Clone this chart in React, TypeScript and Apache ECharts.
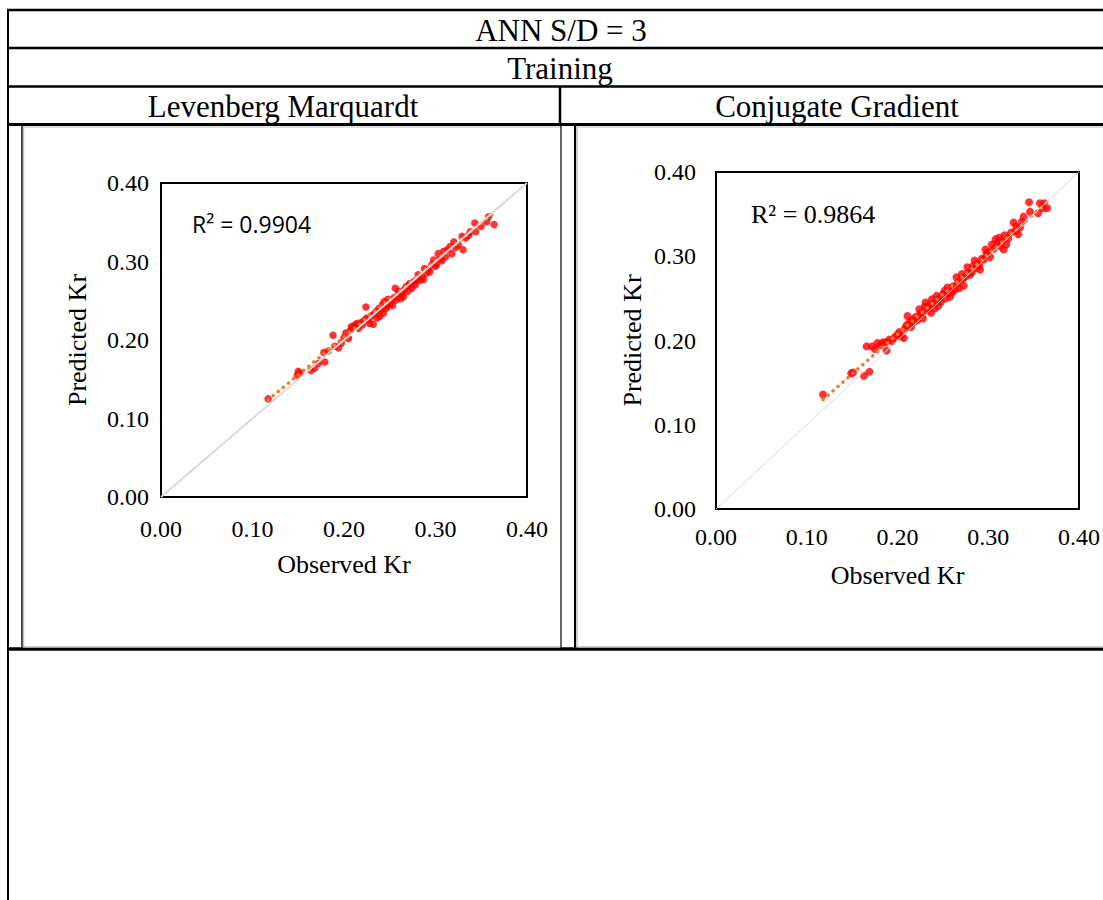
import React, { useEffect, useRef } from "react";
import * as echarts from "echarts";

// ---- Levenberg Marquardt (training) ----
const lmObserved = [
  0.117, 0.149, 0.150, 0.152, 0.164, 0.168, 0.172, 0.178, 0.179, 0.183,
  0.188, 0.190, 0.194, 0.197, 0.200, 0.202, 0.205, 0.207, 0.208, 0.210,
  0.212, 0.214, 0.216, 0.218, 0.220, 0.222, 0.224, 0.225, 0.227, 0.228,
  0.230, 0.232, 0.233, 0.235, 0.236, 0.238, 0.239, 0.240, 0.242, 0.243,
  0.244, 0.246, 0.247, 0.248, 0.250, 0.252, 0.253, 0.255, 0.256, 0.257,
  0.259, 0.260, 0.262, 0.263, 0.265, 0.266, 0.268, 0.270, 0.271, 0.272,
  0.274, 0.276, 0.278, 0.279, 0.281, 0.283, 0.285, 0.287, 0.288, 0.290,
  0.292, 0.294, 0.296, 0.298, 0.300, 0.301, 0.303, 0.305, 0.307, 0.309,
  0.311, 0.313, 0.316, 0.318, 0.320, 0.322, 0.325, 0.329, 0.330, 0.333,
  0.336, 0.338, 0.343, 0.344, 0.350, 0.356, 0.358, 0.364,
];
const lmPredicted = [
  0.125, 0.155, 0.160, 0.158, 0.161, 0.164, 0.170, 0.184, 0.172, 0.186,
  0.206, 0.192, 0.190, 0.196, 0.203, 0.209, 0.202, 0.212, 0.217, 0.215,
  0.219, 0.221, 0.215, 0.222, 0.219, 0.225, 0.242, 0.228, 0.226, 0.221,
  0.231, 0.220, 0.233, 0.236, 0.228, 0.240, 0.230, 0.238, 0.245, 0.234,
  0.249, 0.240, 0.243, 0.252, 0.246, 0.251, 0.244, 0.254, 0.266, 0.251,
  0.257, 0.262, 0.253, 0.259, 0.255, 0.264, 0.268, 0.262, 0.270, 0.272,
  0.266, 0.274, 0.270, 0.276, 0.283, 0.276, 0.280, 0.277, 0.291, 0.285,
  0.289, 0.287, 0.296, 0.302, 0.294, 0.296, 0.310, 0.303, 0.301, 0.313,
  0.306, 0.315, 0.319, 0.310, 0.325, 0.318, 0.321, 0.332, 0.315, 0.330,
  0.333, 0.338, 0.349, 0.338, 0.345, 0.351, 0.357, 0.347,
];
const lmTrend = { slope: 0.967, intercept: 0.0105 };
const lmR2 = "R² = 0.9904";

// ---- Conjugate Gradient (training) ----
const cgObserved = [
  0.118, 0.149, 0.151, 0.163, 0.166, 0.169, 0.172, 0.175, 0.178, 0.181,
  0.184, 0.187, 0.188, 0.191, 0.194, 0.197, 0.200, 0.202, 0.204, 0.207,
  0.208, 0.210, 0.211, 0.213, 0.215, 0.216, 0.218, 0.220, 0.222, 0.224,
  0.225, 0.227, 0.228, 0.230, 0.231, 0.233, 0.234, 0.236, 0.237, 0.238,
  0.240, 0.241, 0.243, 0.244, 0.245, 0.247, 0.248, 0.250, 0.252, 0.253,
  0.255, 0.256, 0.258, 0.260, 0.261, 0.263, 0.265, 0.266, 0.268, 0.269,
  0.271, 0.272, 0.273, 0.275, 0.277, 0.278, 0.280, 0.282, 0.283, 0.285,
  0.287, 0.288, 0.290, 0.291, 0.293, 0.295, 0.297, 0.298, 0.300, 0.302,
  0.304, 0.306, 0.308, 0.310, 0.312, 0.313, 0.315, 0.317, 0.318, 0.320,
  0.322, 0.325, 0.328, 0.330, 0.331, 0.333, 0.335, 0.337, 0.339, 0.345,
  0.346, 0.355, 0.357, 0.360, 0.362, 0.365,
];
const cgPredicted = [
  0.136, 0.161, 0.162, 0.158, 0.193, 0.163, 0.193, 0.190, 0.197, 0.195,
  0.198, 0.198, 0.188, 0.201, 0.199, 0.204, 0.207, 0.210, 0.205, 0.203,
  0.214, 0.218, 0.229, 0.221, 0.216, 0.225, 0.222, 0.228, 0.224, 0.237,
  0.232, 0.231, 0.226, 0.240, 0.245, 0.236, 0.239, 0.242, 0.233, 0.249,
  0.244, 0.238, 0.253, 0.247, 0.241, 0.251, 0.246, 0.255, 0.259, 0.250,
  0.263, 0.256, 0.252, 0.257, 0.264, 0.260, 0.275, 0.268, 0.262, 0.272,
  0.279, 0.273, 0.265, 0.276, 0.287, 0.281, 0.278, 0.281, 0.288, 0.295,
  0.286, 0.291, 0.289, 0.284, 0.297, 0.296, 0.308, 0.302, 0.305, 0.299,
  0.314, 0.309, 0.320, 0.316, 0.322, 0.312, 0.318, 0.308, 0.325, 0.314,
  0.321, 0.328, 0.340, 0.330, 0.335, 0.326, 0.334, 0.341, 0.347, 0.364,
  0.353, 0.351, 0.363, 0.357, 0.363, 0.357,
];
const cgTrend = { slope: 0.947, intercept: 0.0182 };
const cgR2 = "R² = 0.9864";

// ---- shared axis / table text ----
const axisTicks = [0, 0.1, 0.2, 0.3, 0.4];
const xTitle = "Observed Kr";
const yTitle = "Predicted Kr";
const tableTitle = "ANN S/D = 3";
const phaseTitle = "Training";
const methodTitles = ["Levenberg Marquardt", "Conjugate Gradient"];

const SERIF = "'Liberation Serif', 'Times New Roman', serif";

function pairs(xs: number[], ys: number[]) {
  return xs.map((x, i) => [x, ys[i]]);
}

function trendLine(xs: number[], t: { slope: number; intercept: number }) {
  const lo = Math.min(...xs);
  const hi = Math.max(...xs);
  return [
    [lo, t.slope * lo + t.intercept],
    [hi, t.slope * hi + t.intercept],
  ];
}

function axisPair(idx: number, xNameGap: number, yNameGap: number, xMargin: number, yMargin: number) {
  const lo = axisTicks[0];
  const hi = axisTicks[axisTicks.length - 1];
  const common = {
    gridIndex: idx,
    type: "value" as const,
    min: lo,
    max: hi,
    interval: axisTicks[1] - axisTicks[0],
    axisLine: { show: false },
    axisTick: { show: false },
    splitLine: { show: false },
    nameLocation: "middle" as const,
    nameTextStyle: { fontFamily: SERIF, fontSize: 26, color: "#000" },
  };
  const tickLabel = (margin: number) => ({
    formatter: (v: number) => v.toFixed(2),
    fontFamily: SERIF,
    fontSize: 24,
    color: "#000",
    margin,
  });
  return {
    x: { ...common, name: xTitle, nameGap: xNameGap, axisLabel: tickLabel(xMargin) },
    y: { ...common, name: yTitle, nameGap: yNameGap, axisLabel: tickLabel(yMargin) },
  };
}

function seriesFor(
  idx: number,
  xs: number[],
  ys: number[],
  t: { slope: number; intercept: number },
  diagWidth: number,
  dot: number
) {
  return [
    {
      type: "scatter",
      xAxisIndex: idx,
      yAxisIndex: idx,
      data: pairs(xs, ys),
      symbol: "circle",
      symbolSize: dot,
      itemStyle: { color: "#FF0000" },
      z: 2,
    },
    {
      type: "line",
      xAxisIndex: idx,
      yAxisIndex: idx,
      data: trendLine(xs, t),
      showSymbol: false,
      lineStyle: { color: "#ED7D31", width: 3.5, type: [0.1, 6.5], cap: "round" },
      z: 3,
    },
    {
      type: "line",
      xAxisIndex: idx,
      yAxisIndex: idx,
      data: [
        [axisTicks[0], axisTicks[0]],
        [axisTicks[axisTicks.length - 1], axisTicks[axisTicks.length - 1]],
      ],
      showSymbol: false,
      lineStyle: { color: "#D9D9D9", width: diagWidth },
      z: 4,
    },
  ];
}

function hLine(x1: number, x2: number, y: number, w: number, color = "#000") {
  return { type: "line", shape: { x1, y1: y, x2, y2: y }, style: { stroke: color, lineWidth: w }, z: 10 };
}
function vLine(x: number, y1: number, y2: number, w: number, color = "#000") {
  return { type: "line", shape: { x1: x, y1, x2: x, y2 }, style: { stroke: color, lineWidth: w }, z: 10 };
}
function label(text: string, x: number, y: number, size: number, family = SERIF) {
  return {
    type: "text",
    x,
    y,
    style: { text, fontFamily: family, fontSize: size, fill: "#000", align: "center", verticalAlign: "middle" },
    z: 11,
  };
}

export default function App() {
  const ref = useRef<HTMLDivElement>(null);

  useEffect(() => {
    if (!ref.current) return;
    const chart = echarts.init(ref.current, undefined, { renderer: "svg" });
    const a0 = axisPair(0, 54, 71, 20, 12);
    const a1 = axisPair(1, 53, 71, 16, 20);

    chart.setOption({
      animation: false,
      backgroundColor: "#fff",
      grid: [
        { left: 161, top: 183, width: 366, height: 314, show: true, borderColor: "#000", borderWidth: 2, backgroundColor: "#fff" },
        { left: 716, top: 172, width: 365, height: 337, show: true, borderColor: "#000", borderWidth: 2, backgroundColor: "#fff" },
      ],
      xAxis: [a0.x, a1.x],
      yAxis: [a0.y, a1.y],
      series: [
        ...seriesFor(0, lmObserved, lmPredicted, lmTrend, 2, 7.5),
        ...seriesFor(1, cgObserved, cgPredicted, cgTrend, 1, 8),
      ],
      graphic: [
        // table rules
        hLine(7, 1103, 10, 2.5),
        hLine(7, 1103, 48, 2.5),
        hLine(7, 1103, 86.5, 2.5),
        hLine(7, 1103, 124.5, 3),
        vLine(8, 9, 900, 2),
        vLine(560, 86, 124, 2.5),
        hLine(7, 1103, 649, 3.5),
        // embedded chart frames
        vLine(22, 125, 648, 1.5),
        vLine(23.5, 126, 647, 1.5, "#BFBFBF"),
        hLine(23, 561, 647, 1.5, "#BFBFBF"),
        hLine(23, 561, 127, 1, "#BFBFBF"),
        vLine(561, 125, 648, 1.2),
        vLine(575, 125, 648, 2),
        vLine(577, 126, 647, 1.5, "#BFBFBF"),
        hLine(577, 1103, 647, 1.5, "#BFBFBF"),
        hLine(577, 1103, 127, 1, "#BFBFBF"),
        // header texts
        label(tableTitle, 561, 30, 31),
        label(phaseTitle, 560, 68, 31),
        label(methodTitles[0], 283, 106, 31),
        label(methodTitles[1], 837, 106, 31),
        // coefficient of determination labels
        {
          type: "text",
          x: 192,
          y: 224,
          style: { text: lmR2, fontFamily: "'Open Sans', 'Liberation Sans', sans-serif", fontSize: 23, fill: "#000", align: "left", verticalAlign: "middle" },
          z: 11,
        },
        {
          type: "text",
          x: 751,
          y: 214,
          style: { text: cgR2, fontFamily: SERIF, fontSize: 26, fill: "#000", align: "left", verticalAlign: "middle" },
          z: 11,
        },
      ],
    });
    return () => chart.dispose();
  }, []);

  return (
    <div
      ref={ref}
      style={{ position: "absolute", left: 0, top: 0, width: 1103, height: 900, background: "#fff" }}
    />
  );
}
